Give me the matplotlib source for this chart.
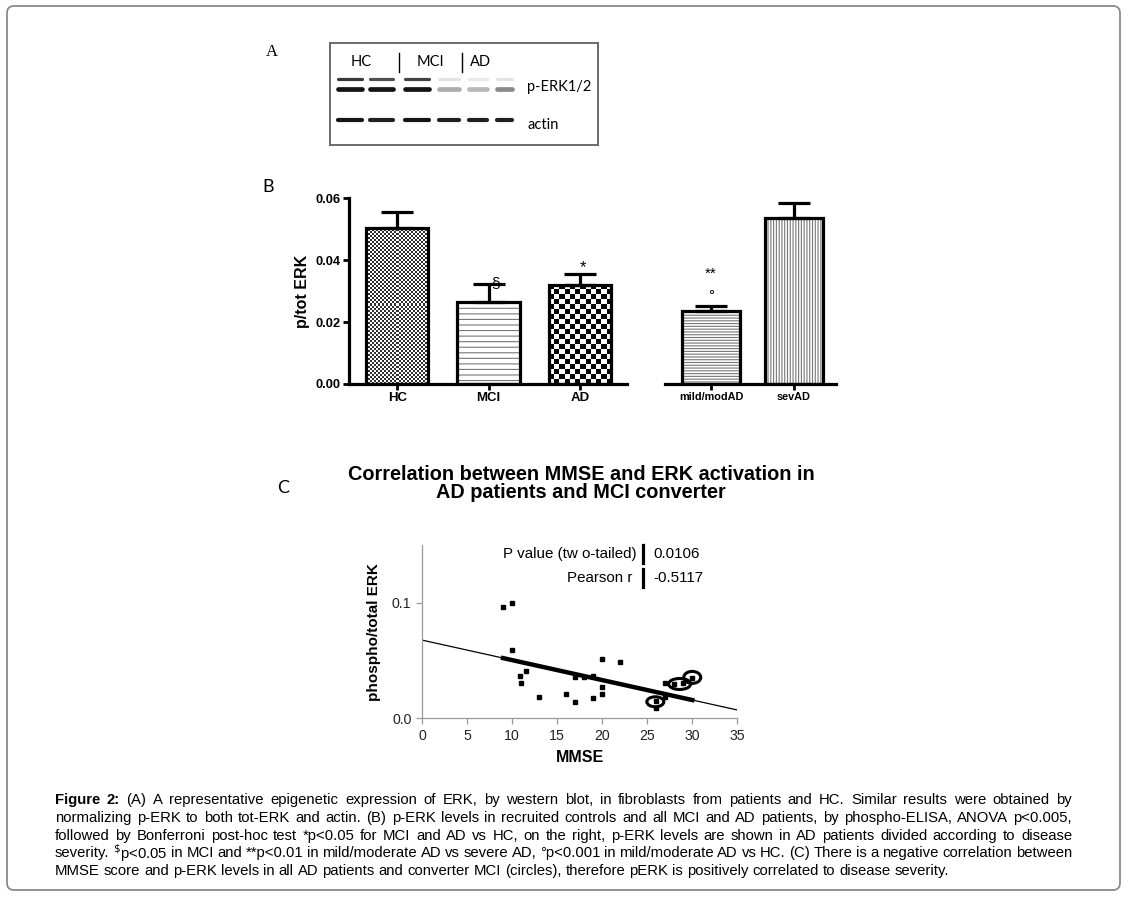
import numpy as np
import matplotlib
matplotlib.use('Agg')
import matplotlib.pyplot as plt
from matplotlib.colors import ListedColormap
from matplotlib.patches import Ellipse, FancyBboxPatch

plt.rcParams['font.family'] = ['Liberation Sans', 'DejaVu Sans']
plt.rcParams['hatch.linewidth'] = 0.8
plt.rcParams['axes.facecolor'] = 'none'

W, H = 1128, 897

# --- panel A: western blot (6 lanes) ---
lane_x = [350, 381, 417, 449, 478, 504]
lane_w = [28, 27, 28, 24, 22, 19]
erk1 = [0.85, 0.75, 0.80, 0.12, 0.10, 0.12]
erk2 = [1.00, 1.00, 1.00, 0.35, 0.30, 0.50]
actin = [1.00, 0.95, 1.00, 0.95, 0.95, 0.95]
blot_groups = ['HC', 'MCI', 'AD']
blot_group_x = [361, 430, 481]

# --- panel B: p/tot ERK ---
groups1 = ['HC', 'MCI', 'AD']
means1 = [0.0505, 0.0264, 0.0321]
tops1 = [0.0557, 0.0324, 0.0357]
groups2 = ['mild/modAD', 'sevAD']
means2 = [0.0235, 0.0537]
tops2 = [0.0251, 0.0586]

# --- panel C: MMSE vs phospho/total ERK ---
mmse = [9, 10, 10, 10.9, 11, 11.6, 13, 16, 17, 17, 18, 19, 19, 20, 20, 20,
        22, 26, 26, 27, 27, 28, 29, 30]
perk = [0.096, 0.100, 0.0588, 0.0369, 0.0308, 0.0406, 0.0187, 0.0207,
        0.0354, 0.0141, 0.0354, 0.0369, 0.0179, 0.0510, 0.0268, 0.0210,
        0.0490, 0.0089, 0.0147, 0.0308, 0.0187, 0.0297, 0.0308, 0.0349]
conv_x = [25.9, 28.6, 30.0]
conv_y = [0.0143, 0.0297, 0.0354]
fit_x = [0, 35]
fit_y = [0.0677, 0.0072]
fit_range_x = [9, 30]
fit_range_y = [0.0521, 0.0158]
stats_labels = ['P value (tw o-tailed)', 'Pearson r']
stats_values = ['0.0106', '-0.5117']

caption_lines = [
    "Figure 2: (A) A representative epigenetic expression of ERK, by western blot, in fibroblasts from patients and HC. Similar results were obtained by",
    "normalizing p-ERK to both tot-ERK and actin. (B) p-ERK levels in recruited controls and all MCI and AD patients, by phospho-ELISA, ANOVA p<0.005,",
    "followed by Bonferroni post-hoc test *p<0.05 for MCI and AD vs HC, on the right, p-ERK levels are shown in AD patients divided according to disease",
    r"severity. $^{\$}$p<0.05 in MCI and **p<0.01 in mild/moderate AD vs severe AD, °p<0.001 in mild/moderate AD vs HC. (C) There is a negative correlation between",
    "MMSE score and p-ERK levels in all AD patients and converter MCI (circles), therefore pERK is positively correlated to disease severity.",
]

fig = plt.figure(figsize=(W / 100, H / 100), dpi=100, facecolor='white')

# background axes in pixel coordinates
bg = fig.add_axes([0, 0, 1, 1], zorder=-1)
bg.set_xlim(0, W)
bg.set_ylim(H, 0)
bg.axis('off')
bg.add_patch(FancyBboxPatch((7, 6), 1113, 884, boxstyle='round,pad=0,rounding_size=7',
                            fc='none', ec='#8a8a8a', lw=1.3))

# panel letters
bg.text(272, 52, 'A', fontsize=12, family='Liberation Serif', ha='center', va='center')
bg.text(268, 187, 'B', fontsize=13, family='Lato', ha='center', va='center')
bg.text(283, 488, 'C', fontsize=13, family='Lato', ha='center', va='center')

# ---------- panel A ----------
axa = fig.add_axes([330 / W, 1 - 145 / H, 268 / W, 102 / H])
axa.set_xlim(330, 598)
axa.set_ylim(145, 43)
axa.set_xticks([])
axa.set_yticks([])
for s in axa.spines.values():
    s.set_color('#6a6a6a')
    s.set_linewidth(1.4)


def band(y, vals, lw):
    for x, w, v in zip(lane_x, lane_w, vals):
        g = 1 - 0.92 * v
        axa.plot([x - w / 2 + 2, x + w / 2 - 2], [y, y], color=(g, g, g),
                 lw=lw, solid_capstyle='round')


band(79.5, erk1, 2.3)
band(89.5, erk2, 3.4)
band(120.5, actin, 3.0)
for name, x in zip(blot_groups, blot_group_x):
    axa.text(x, 62, name, fontsize=10.5, family='Lato', ha='center', va='center')
for x in [399, 462]:
    axa.plot([x, x], [53, 72], color='black', lw=1)
axa.text(527, 87, 'p-ERK1/2', fontsize=10.5, family='Lato', va='center')
axa.text(527, 125, 'actin', fontsize=10.5, family='Lato', va='center')


# ---------- panel B ----------
def checker(ax, rect, cell_px, color):
    x0, y0 = rect.get_x(), rect.get_y()
    x1, y1 = x0 + rect.get_width(), y0 + rect.get_height()
    (px0, py0), (px1, py1) = ax.transData.transform([(x0, y0), (x1, y1)])
    nx = max(1, int(round((px1 - px0) / cell_px)))
    ny = max(1, int(round((py1 - py0) / cell_px)))
    board = np.indices((ny, nx)).sum(axis=0) % 2
    ax.imshow(board, cmap=ListedColormap(['white', color]), extent=(x0, x1, y0, y1),
              origin='lower', interpolation='nearest', aspect='auto', zorder=1)


def style_bar_axes(ax, xlim):
    ax.set_xlim(*xlim)
    ax.set_ylim(0, 0.06)
    for side in ['top', 'right']:
        ax.spines[side].set_visible(False)
    ax.spines['bottom'].set_linewidth(2.3)
    ax.spines['left'].set_linewidth(2.3)
    ax.tick_params(axis='x', length=4, width=2, pad=2)
    ax.tick_params(axis='y', length=4, width=2, pad=2, labelsize=9.3)


axb1 = fig.add_axes([349 / W, 1 - 384 / H, 278 / W, 185.5 / H])
style_bar_axes(axb1, (-0.527, 2.516))
x1 = np.arange(len(groups1))
bars1 = axb1.bar(x1, means1, width=0.68, color='white', ec='#777777', lw=0,
                 hatch=['', '---', ''], zorder=1)
axb1.set_xlim(-0.527, 2.516)
axb1.set_ylim(0, 0.06)
checker(axb1, bars1[0], 2, '#303030')
checker(axb1, bars1[2], 5, 'black')
axb1.bar(x1, means1, width=0.68, fill=False, ec='black', lw=2.3, zorder=2)
axb1.errorbar(x1, means1, yerr=[np.zeros(len(x1)), np.array(tops1) - np.array(means1)],
              fmt='none', ecolor='black', elinewidth=2.3, capsize=11.5, capthick=2.3, zorder=3)
axb1.set_xlim(-0.527, 2.516)
axb1.set_ylim(0, 0.06)
axb1.set_yticks([0, 0.02, 0.04, 0.06], ['0.00', '0.02', '0.04', '0.06'], fontweight='bold')
axb1.set_xticks(x1, groups1, fontsize=9.5, fontweight='bold')
axb1.set_ylabel('p/tot ERK', fontsize=11.5, fontweight='bold', labelpad=4)
axb1.text(1.08, 0.0327, '§', fontsize=11, ha='center', va='center')
axb1.text(2.03, 0.0375, '*', fontsize=12, ha='center', va='center')

axb2 = fig.add_axes([665 / W, 1 - 384 / H, 171 / W, 185.5 / H])
style_bar_axes(axb2, (-0.554, 1.506))
axb2.spines['left'].set_visible(False)
axb2.tick_params(axis='y', left=False, labelleft=False)
x2 = np.arange(len(groups2))
axb2.bar(x2, means2, width=0.69, color='white', ec='#777777', lw=0,
         hatch=['------', '||||||'], zorder=1)
axb2.bar(x2, means2, width=0.69, fill=False, ec='black', lw=2.3, zorder=2)
axb2.errorbar(x2, means2, yerr=[np.zeros(len(x2)), np.array(tops2) - np.array(means2)],
              fmt='none', ecolor='black', elinewidth=2.3, capsize=11.5, capthick=2.3, zorder=3)
axb2.set_xticks(x2, groups2, fontsize=7.8, fontweight='bold')
axb2.text(0, 0.0358, '**', fontsize=11, ha='center', va='center')
axb2.text(0, 0.0285, '°', fontsize=11, ha='center', va='center')

# ---------- panel C ----------
bg.text(581, 474, 'Correlation between MMSE and ERK activation in', fontsize=14.3,
        fontweight='bold', ha='center', va='center')
bg.text(581, 493, 'AD patients and MCI converter', fontsize=14.3,
        fontweight='bold', ha='center', va='center')

axc = fig.add_axes([422 / W, 1 - 718.3 / H, 315.3 / W, 173.3 / H])
axc.set_xlim(0, 35)
axc.set_ylim(0, 0.15)
for side in ['top', 'right']:
    axc.spines[side].set_visible(False)
for side in ['left', 'bottom']:
    axc.spines[side].set_color('#999999')
    axc.spines[side].set_linewidth(0.9)
axc.tick_params(colors='#999999', labelcolor='#222222', labelsize=10.2, length=4, width=0.9)
axc.set_xticks(np.arange(0, 36, 5))
axc.set_yticks([0, 0.1], ['0.0', '0.1'])
axc.plot(fit_x, fit_y, color='black', lw=0.9, zorder=2)
axc.plot(fit_range_x, fit_range_y, color='black', lw=3.2, zorder=2)
axc.plot(mmse, perk, 's', ms=3, color='black', zorder=3)
px_x = 315.3 / 35
px_y = 173.3 / 0.15
for cx, cy, (ew, eh) in zip(conv_x, conv_y, [(17, 10), (22, 11), (17, 12)]):
    axc.add_patch(Ellipse((cx, cy), ew / px_x, eh / px_y, fill=False, ec='black',
                          lw=2.2, zorder=4, clip_on=False))
axc.set_xlabel('MMSE', fontsize=11.5, fontweight='bold', labelpad=5)
axc.set_ylabel('phospho/total ERK', fontsize=11, fontweight='bold', labelpad=8)

for i, (lab, val) in enumerate(zip(stats_labels, stats_values)):
    y = 554 + 24 * i
    bg.text(637 - 5 * i, y, lab, fontsize=10.9, ha='right', va='center')
    bg.plot([643, 643], [y - 9, y + 9], color='black', lw=2.3)
    bg.text(653, y, val, fontsize=10.9, ha='left', va='center')

# ---------- caption (justified) ----------
renderer = fig.canvas.get_renderer()
x_left, x_right = 55, 1072
for i, line in enumerate(caption_lines):
    y = 800 + 17.8 * i
    words = line.split(' ')
    texts = []
    for j, w in enumerate(words):
        weight = 'bold' if (i == 0 and j < 2) else 'normal'
        texts.append(bg.text(0, y, w, fontsize=10.7, fontweight=weight, va='center'))
    widths = [t.get_window_extent(renderer).width for t in texts]
    if i < len(caption_lines) - 1:
        gap = (x_right - x_left - sum(widths)) / (len(words) - 1)
    else:
        gap = 4.0
    x = x_left
    for t, wd in zip(texts, widths):
        t.set_x(x)
        x += wd + gap

fig.savefig('out.png', dpi=100, facecolor='white')
